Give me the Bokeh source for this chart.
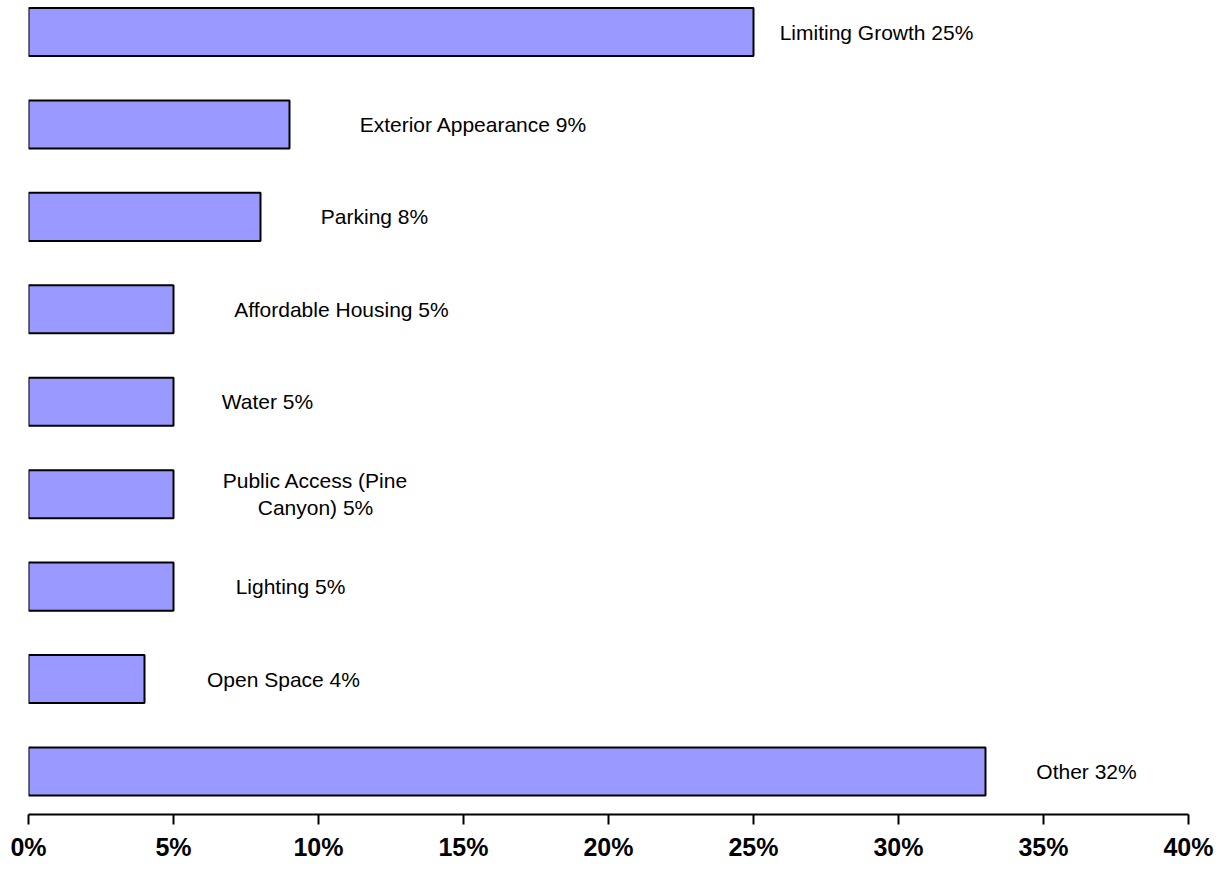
from bokeh.plotting import figure
from bokeh.models import ColumnDataSource, FixedTicker, Range1d
from bokeh.core.properties import value
from bokeh.embed import file_html
from bokeh.resources import INLINE

# Data (top to bottom)
categories = ["Limiting Growth", "Exterior Appearance", "Parking", "Affordable Housing",
              "Water", "Public Access (Pine\nCanyon)", "Lighting", "Open Space", "Other"]
bar_values = [25, 9, 8, 5, 5, 5, 5, 4, 33]
label_pct = ["25%", "9%", "8%", "5%", "5%", "5%", "5%", "4%", "32%"]
tick_values = [0, 5, 10, 15, 20, 25, 30, 35, 40]
tick_labels = ["0%", "5%", "10%", "15%", "20%", "25%", "30%", "35%", "40%"]

# label horizontal offsets (pixels, style only)
label_offsets = [123, 184, 114, 168, 94, 142, 117, 139, 101]

n = len(categories)
ypos = [n - 1 - i for i in range(n)]
texts = [c + " " + pct for c, pct in zip(categories, label_pct)]

src = ColumnDataSource(dict(y=ypos, v=bar_values, t=texts, off=label_offsets))

p = figure(width=1217, height=863, output_backend="svg", toolbar_location=None,
           x_range=Range1d(0, 40), y_range=Range1d(-0.465, 8.341),
           min_border_left=28, min_border_right=29, min_border_top=0, min_border_bottom=0)
p.outline_line_color = None
p.xgrid.visible = False
p.ygrid.visible = False
p.yaxis.visible = False

p.hbar(y="y", left=0, right="v", height=0.52, source=src,
       fill_color="#9999FF", line_color="black", line_width=2)

p.text(x="v", y="y", text="t", x_offset="off", source=src,
       text_align="center", text_baseline="middle",
       text_font=value("Liberation Sans"), text_font_size="21px", text_color="black",
       text_line_height=1.2)

ax = p.xaxis[0]
ax.ticker = FixedTicker(ticks=tick_values)
ax.major_label_overrides = {t: l for t, l in zip(tick_values, tick_labels)}
ax.minor_tick_line_color = None
ax.major_tick_in = 0
ax.major_tick_out = 10
ax.axis_line_width = 2
ax.major_tick_line_width = 2
ax.axis_line_color = "black"
ax.major_tick_line_color = "black"
ax.major_label_text_font = "Liberation Sans"
ax.major_label_text_font_style = "bold"
ax.major_label_text_font_size = "25px"
ax.major_label_text_color = "black"
ax.major_label_standoff = 8

open("out.html", "w").write(file_html(p, INLINE))
